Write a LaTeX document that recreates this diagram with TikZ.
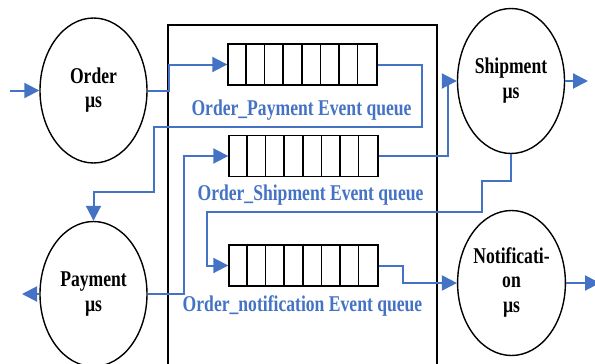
\documentclass[tikz,border=0pt]{standalone}
\usepackage{graphicx}
\usepackage{fontspec}
\setmainfont{Liberation Serif}
\usetikzlibrary{shapes.geometric,arrows.meta}
\definecolor{flowblue}{RGB}{68,114,196}
\newcommand\vtext[1]{\scalebox{1}[1.28]{\begin{tabular}{@{}c@{}}#1\end{tabular}}}
\begin{document}
\begin{tikzpicture}[x=1pt,y=-1pt,
  svc/.style={draw=black,line width=1.4pt,ellipse,minimum width=107pt,minimum height=145pt,inner sep=0pt,
    font=\fontsize{17.6}{19.5}\selectfont\bfseries},
  queuebox/.style={draw=black,line width=1.4pt,minimum width=149pt,minimum height=41pt,inner sep=0pt},
  qlabel/.style={text=flowblue,inner sep=0pt,font=\fontsize{17.6}{19.5}\selectfont\bfseries},
  flow/.style={draw=flowblue,line width=2pt,-{Triangle[length=15pt,width=15pt]}},
  frame/.style={draw=black,line width=1.8pt}
]
\useasboundingbox (0,0) rectangle (595,364);
\clip (0,0) rectangle (595,364);

% container
\draw[frame] (168,372) -- (168,25) -- (437,25) -- (437,372);

% services
\node[svc] (O) at (93.5,90.5) {\vtext{Order\\µs}};
\node[svc] (P) at (93.5,294) {\vtext{Payment\\µs}};
\node[svc] (S) at (511,81) {\vtext{Shipment\\µs}};
\node[svc] (N) at (511.5,283) {\vtext{Notificati-\\on\\µs}};

% queues
\node[queuebox] (q1) at (302.5,64.5) {};
\node[queuebox] (q2) at (303.5,156) {};
\node[queuebox] (q3) at (303.5,265.5) {};
\foreach \q in {q1,q2,q3}
  \foreach \i in {1,...,7}
    \draw[line width=1.4pt] ([xshift=\i*18.625pt]\q.north west) -- ([xshift=\i*18.625pt]\q.south west);

% labels
\node[qlabel] (l1) at (301.5,110.5) {\vtext{Order\_Payment Event queue}};
\node[qlabel] (l2) at (310.5,195.5) {\vtext{Order\_Shipment Event queue}};
\node[qlabel] (l3) at (302.5,306.5) {\vtext{Order\_notification Event queue}};

% free ends
\coordinate (inO) at (10,90.5);
\coordinate (outP) at (22,294);
\coordinate (outS) at (588,81);
\coordinate (outN) at (600,283);

% connectors
\draw[flow] (inO) -- (O.west);
\draw[flow] (O.east) -- ++(21,0) |- (q1.west);
\draw[flow] (q1.east) -| (422,127) -| (154,192) -| (P.north);
\draw[flow] (P.east) -- ++(36,0) |- (q2.west);
\draw[flow] (q2.east) -- ++(69,0) |- (S.west);
\draw[flow] (S.south) |- (482,181) |- (207,212) |- (q3.west);
\draw[flow] (q3.east) -- ++(24,0) |- (N.west);
\draw[flow] (S.east) -- (outS);
\draw[flow] (P.west) -- (outP);
\draw[flow] (N.east) -- (outN);
\end{tikzpicture}
\end{document}
